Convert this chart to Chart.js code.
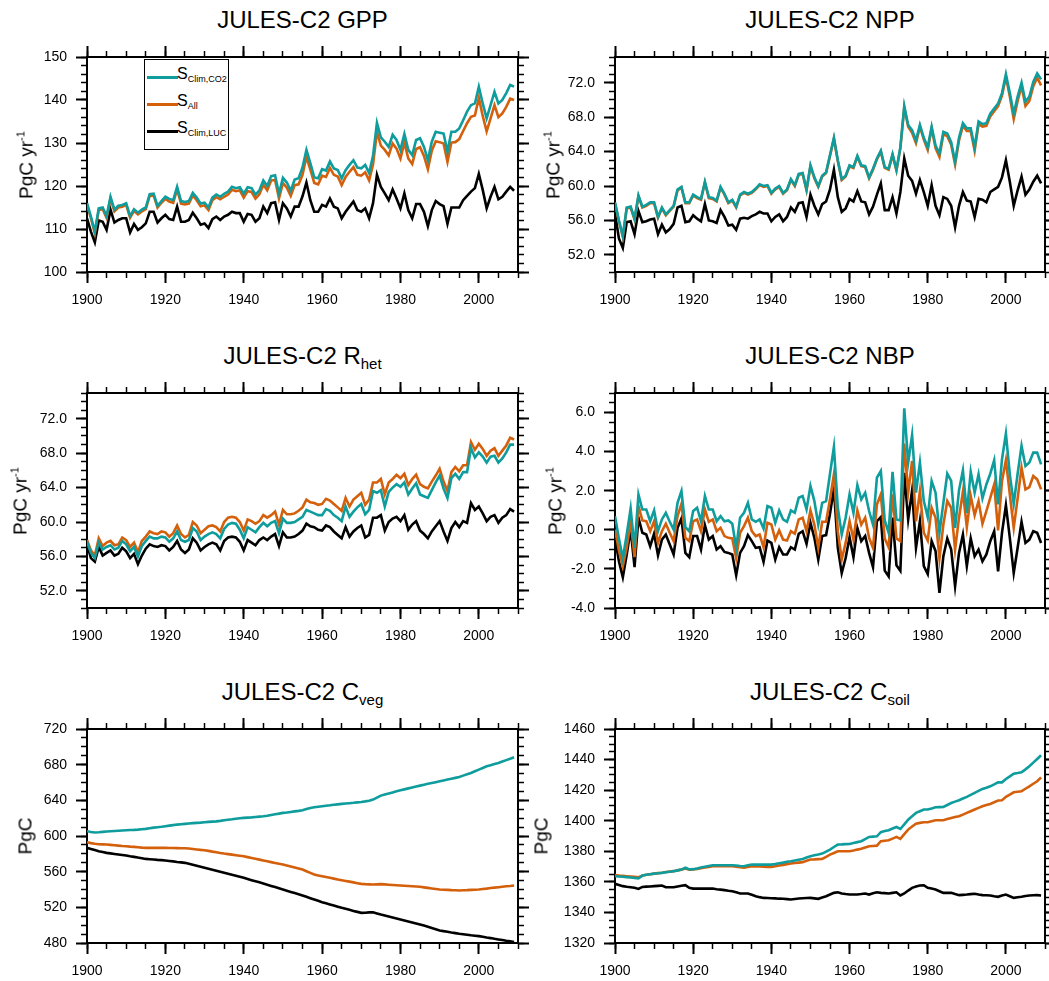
<!DOCTYPE html>
<html><head><meta charset="utf-8">
<script src="https://cdn.jsdelivr.net/npm/chart.js@4.4.1/dist/chart.umd.min.js"></script>
<style>
html,body{margin:0;padding:0;background:#fff;overflow:hidden;}
#wrap{position:relative;width:1049px;height:981px;font-family:"Liberation Sans",Arial,Helvetica,sans-serif;color:#000;}
#wrap canvas{position:absolute;}
.title{position:absolute;font-size:24px;line-height:24px;white-space:nowrap;transform:translateX(-50%);}
.title sub{font-size:15px;vertical-align:-5px;line-height:0;}
.ylab{position:absolute;font-size:19px;line-height:19px;white-space:nowrap;transform:translate(-50%,-50%) rotate(-90deg);}
.ylab sup{font-size:11px;vertical-align:8px;line-height:0;}
.legend{position:absolute;border:1px solid #000;background:#fff;box-sizing:border-box;z-index:5;}
.legend .sw{position:absolute;height:3px;}
.legend .tx{position:absolute;font-size:16px;line-height:16px;white-space:nowrap;}
.legend .tx sub{font-size:9px;vertical-align:-3px;line-height:0;}
</style>
</head><body><div id="wrap"></div>
<script>
// ---------------- DATA ----------------
const YEARS = [1900,1901,1902,1903,1904,1905,1906,1907,1908,1909,1910,1911,1912,1913,1914,1915,1916,1917,1918,1919,
1920,1921,1922,1923,1924,1925,1926,1927,1928,1929,1930,1931,1932,1933,1934,1935,1936,1937,1938,1939,
1940,1941,1942,1943,1944,1945,1946,1947,1948,1949,1950,1951,1952,1953,1954,1955,1956,1957,1958,1959,
1960,1961,1962,1963,1964,1965,1966,1967,1968,1969,1970,1971,1972,1973,1974,1975,1976,1977,1978,1979,
1980,1981,1982,1983,1984,1985,1986,1987,1988,1989,1990,1991,1992,1993,1994,1995,1996,1997,1998,1999,
2000,2001,2002,2003,2004,2005,2006,2007,2008,2009];

const X_TICKS = [1900,1920,1940,1960,1980,2000];
const GPP_TICKS = [100,110,120,130,140,150];
const NPP_TICKS = [52,56,60,64,68,72];
const RHET_TICKS = [52,56,60,64,68,72];
const NBP_TICKS = [-4,-2,0,2,4,6];
const CVEG_TICKS = [480,520,560,600,640,680,720];
const CSOIL_TICKS = [1320,1340,1360,1380,1400,1420,1440,1460];

const LEGEND_MAIN = ['S','S','S'];
const LEGEND_SUB = ['Clim,CO2','All','Clim,LUC'];

const GPP_CO2 = [116.0,112.9,109.4,114.8,115.0,113.0,117.5,114.5,115.4,115.6,116.0,113.0,114.6,113.8,114.5,115.0,118.1,118.2,115.4,116.5,
117.5,117.0,116.7,119.8,116.5,116.3,116.5,118.4,117.3,115.9,116.1,115.0,117.3,118.0,117.5,118.2,118.7,119.8,119.5,119.7,
118.2,119.7,119.5,118.0,119.0,121.3,120.0,122.3,122.5,118.2,121.9,120.8,118.9,121.5,121.8,124.3,128.4,125.3,122.0,121.8,
123.9,123.6,125.7,124.1,123.7,121.8,123.7,124.9,126.0,124.3,124.1,124.9,123.0,127.0,134.7,131.3,130.3,129.1,131.9,130.7,
128.4,132.1,128.4,127.2,130.7,131.1,129.1,126.0,130.3,132.6,132.4,132.2,128.0,132.6,132.6,133.4,135.3,137.3,138.8,139.2,
143.1,139.2,135.7,138.8,141.9,139.2,140.0,141.6,143.5,143.1];
const GPP_ALL = [115.6,112.5,109.0,114.4,114.6,112.6,117.1,114.1,115.0,115.2,115.6,112.6,114.2,113.4,114.1,114.6,117.7,117.8,115.0,116.1,
117.0,116.4,116.1,119.2,115.9,115.7,115.9,117.8,116.7,115.3,115.5,114.4,116.7,117.4,116.9,117.5,118.0,119.1,118.8,119.0,
117.3,118.8,118.6,117.1,118.1,120.3,119.0,121.3,121.4,117.1,120.7,119.6,117.7,120.2,120.4,122.6,126.8,123.8,120.7,120.4,
122.4,122.1,124.2,122.6,122.2,120.2,122.1,123.3,124.4,122.6,122.4,123.2,121.3,125.0,132.6,129.4,128.4,127.1,129.9,128.7,
126.4,130.1,126.4,125.1,128.6,129.0,127.0,123.9,128.2,130.4,130.2,129.9,125.6,130.1,130.2,130.9,132.8,134.6,136.1,136.4,
140.5,136.3,132.7,135.7,138.8,136.0,136.9,138.4,140.3,140.0];
const GPP_LUC = [112.5,109.4,106.9,112.0,111.7,109.8,114.5,111.5,112.1,112.5,112.5,109.2,111.2,109.8,110.4,111.3,114.0,114.0,111.5,112.5,
113.3,112.3,112.1,115.2,111.7,111.7,112.1,113.8,112.5,111.0,111.3,110.2,112.3,112.9,112.1,112.9,113.3,114.0,113.7,113.7,
111.7,113.5,113.3,111.7,112.5,115.2,113.7,116.0,116.2,112.1,116.0,114.8,112.9,115.2,115.2,117.6,120.8,116.7,114.0,114.0,
115.6,115.2,117.1,115.2,114.8,112.5,114.0,115.2,116.4,114.4,114.0,114.8,112.5,116.0,122.6,119.8,118.3,116.7,119.2,117.1,
114.8,118.3,114.4,112.5,115.8,115.8,114.0,110.7,114.4,116.5,115.8,115.3,111.2,115.0,115.0,115.0,116.7,117.7,118.7,119.5,
122.8,119.1,114.8,117.5,119.8,116.9,117.5,118.7,119.8,118.9];

const NPP_CO2 = [58.1,56.0,54.2,57.5,57.6,56.2,58.9,57.6,57.8,58.1,58.1,56.4,57.5,56.7,57.2,57.7,59.6,59.9,58.1,58.1,
59.0,58.7,58.5,60.5,58.7,58.6,58.3,59.9,59.1,58.1,58.4,57.6,59.0,59.3,59.1,59.3,59.7,60.2,60.0,60.1,
59.2,59.7,60.0,59.2,59.6,60.8,60.1,61.4,61.5,59.6,62.4,61.0,60.0,61.2,61.6,63.6,65.6,63.0,60.8,61.2,
62.4,62.2,63.5,62.4,62.3,61.0,62.0,63.2,64.1,62.2,62.0,63.7,61.9,64.5,69.3,67.1,66.5,65.3,67.1,65.6,
64.5,66.9,64.7,63.8,66.3,66.1,65.1,62.8,65.6,67.3,66.7,66.7,64.5,67.5,67.2,67.3,68.4,69.0,69.6,70.8,
73.0,70.8,68.4,70.4,72.0,69.8,70.4,72.1,73.1,72.4];
const NPP_ALL = [58.0,55.9,54.1,57.4,57.5,56.1,58.8,57.5,57.7,58.0,58.0,56.3,57.4,56.6,57.1,57.6,59.5,59.8,58.0,58.0,
58.9,58.6,58.4,60.4,58.6,58.5,58.2,59.8,59.0,58.0,58.3,57.5,58.9,59.2,59.0,59.2,59.6,60.1,59.9,60.0,
59.1,59.6,59.9,59.1,59.5,60.7,60.0,61.3,61.4,59.5,62.3,60.9,59.9,61.1,61.5,63.5,65.5,62.9,60.7,61.1,
62.3,62.1,63.4,62.3,62.2,60.9,61.9,63.1,64.0,62.1,61.9,63.6,61.8,64.4,69.1,66.9,66.2,65.0,66.9,65.4,
64.2,66.7,64.4,63.4,66.0,65.8,64.8,62.5,65.3,67.0,66.4,66.4,64.1,67.2,66.9,67.0,68.1,68.7,69.3,70.5,
72.7,70.4,67.8,69.9,71.6,69.3,69.9,71.6,72.6,71.7];
const NPP_LUC = [56.8,53.9,52.8,55.8,55.9,54.4,57.1,55.8,55.9,56.1,56.2,54.4,55.5,54.6,55.0,55.6,57.5,57.7,55.8,55.9,
56.6,56.2,55.9,57.9,56.0,55.9,55.7,57.2,56.4,55.4,55.5,54.9,56.2,56.3,56.2,56.5,56.7,57.0,56.8,56.8,
55.9,56.4,56.7,55.9,56.4,57.5,57.0,58.0,58.1,56.4,59.0,57.7,56.7,57.9,58.2,59.6,61.9,58.7,57.0,57.4,
58.5,58.2,59.4,58.2,58.1,56.7,57.6,59.0,60.3,57.2,57.2,58.7,56.8,59.3,63.2,61.2,60.6,59.1,60.7,59.3,
57.7,60.1,57.7,56.6,58.7,58.5,57.7,55.2,57.7,59.3,58.3,58.2,56.4,58.5,58.4,58.1,59.3,59.6,59.9,61.0,
63.0,60.5,57.7,59.5,61.1,59.0,59.6,60.5,61.2,60.3];

const RHET_CO2 = [57.7,56.4,55.8,57.6,56.8,57.1,57.3,56.8,57.0,57.8,57.4,56.6,57.1,56.0,57.2,57.8,58.3,58.1,58.1,58.3,
58.2,57.7,58.1,58.9,57.9,57.7,57.9,59.3,58.9,57.9,58.3,58.6,58.8,58.6,58.1,59.2,59.7,59.9,59.8,59.1,
58.1,59.4,59.1,58.8,59.4,59.9,59.5,59.9,60.1,58.7,60.4,59.9,59.9,60.0,60.3,60.6,61.4,61.2,61.0,60.8,
60.8,61.5,61.3,60.8,60.5,60.1,61.8,60.6,61.2,61.7,62.1,60.9,61.4,63.6,63.4,63.7,61.8,63.5,64.0,64.4,
64.1,64.6,63.2,63.9,64.5,63.2,63.0,62.8,63.7,64.6,65.4,63.9,62.8,65.1,65.6,65.0,65.8,65.8,68.6,67.5,
68.1,67.6,66.9,67.6,67.7,66.9,67.4,68.1,69.0,69.0];
const RHET_ALL = [57.9,56.7,56.1,58.1,57.2,57.6,57.8,57.3,57.4,58.2,57.9,57.1,57.6,56.5,57.8,58.3,58.9,58.7,58.6,58.9,
58.8,58.3,58.7,59.6,58.6,58.2,58.5,60.0,59.6,58.7,59.1,59.5,59.6,59.4,58.9,60.0,60.5,60.6,60.5,60.0,
59.0,60.3,60.1,59.8,60.1,60.8,60.5,60.8,61.2,59.7,61.4,60.9,60.9,61.0,61.3,61.7,62.6,62.3,62.2,62.0,
62.1,62.7,62.5,62.1,61.7,61.3,62.8,61.8,62.6,63.0,63.4,62.0,62.6,64.6,64.6,65.0,63.2,64.6,65.0,65.5,
65.1,65.6,64.3,65.0,65.5,64.4,64.1,63.9,64.7,65.4,66.2,64.7,63.6,65.8,66.4,65.9,66.6,66.6,69.3,68.4,
69.1,68.5,67.7,68.3,68.6,67.7,68.3,68.9,69.8,69.6];
const RHET_LUC = [57.4,55.8,55.4,57.1,56.1,56.4,56.7,56.1,56.3,57.0,56.6,55.8,56.3,55.1,56.1,56.9,57.4,57.2,57.1,57.3,
57.2,56.7,57.1,57.8,56.8,56.4,56.8,58.1,57.6,56.7,57.1,57.4,57.6,57.4,56.7,57.8,58.2,58.3,58.2,57.7,
56.7,57.9,57.6,57.3,57.9,58.2,57.9,58.3,58.6,57.2,58.8,58.2,58.2,58.3,58.6,59.0,59.8,59.5,59.4,59.1,
59.0,59.6,59.4,58.9,58.5,58.1,59.4,58.3,58.9,59.3,59.6,58.2,58.5,60.5,60.5,60.8,59.0,60.0,60.4,60.6,
60.1,60.8,59.1,59.7,60.1,59.0,58.6,58.1,58.9,59.5,60.1,58.9,57.8,59.3,60.0,59.4,60.1,59.9,62.2,61.4,
61.8,61.0,60.1,60.6,60.8,59.9,60.5,60.8,61.5,61.2];

const NBP_CO2 = [0.70,-0.44,-1.47,-0.24,1.09,-0.92,1.81,1.04,1.04,0.44,0.99,-0.07,0.53,0.87,0.41,0.02,1.38,1.98,0.14,-0.07,
0.96,1.13,0.44,1.73,1.04,1.04,0.44,0.70,0.44,0.48,0.31,-0.92,0.62,0.87,1.38,0.53,0.41,0.53,0.07,1.21,
1.13,0.36,0.99,0.53,0.41,0.99,0.87,1.64,1.73,1.04,2.24,1.47,0.27,1.38,1.47,2.87,4.24,1.13,-0.24,0.62,
1.81,0.87,2.29,1.56,1.90,0.96,0.27,2.67,3.01,0.48,-0.15,2.97,0.53,0.48,6.22,3.44,4.85,1.90,3.44,1.47,
0.65,2.50,1.90,-0.15,1.38,2.87,2.50,0.10,2.02,3.04,0.87,2.97,1.90,2.84,1.61,2.32,2.87,3.56,1.30,3.61,
4.92,2.84,1.33,2.87,4.29,3.26,3.44,3.95,3.95,3.35];
const NBP_ALL = [0.02,-1.06,-1.86,-0.92,0.44,-1.40,1.21,0.48,0.44,-0.07,0.44,-0.67,-0.07,0.31,-0.15,-0.58,0.70,1.33,-0.41,-0.58,
0.44,0.53,-0.07,1.04,0.41,0.53,-0.07,0.10,-0.32,-0.41,-0.44,-1.44,-0.15,0.19,0.62,-0.07,-0.32,-0.24,-0.89,0.36,
0.27,-0.50,-0.03,-0.50,-0.55,-0.07,-0.20,0.53,0.62,-0.07,0.99,0.27,-0.92,0.41,0.41,1.56,2.84,-0.07,-1.52,-0.67,
0.44,-0.50,0.99,0.27,0.62,-0.41,-0.92,1.30,1.81,-0.44,-0.89,1.81,-0.44,-0.58,4.41,1.90,3.52,0.44,1.98,-0.15,
-0.55,1.13,0.62,-1.47,0.27,1.47,1.13,-1.01,0.62,1.95,0.14,1.73,0.75,1.47,0.31,0.96,1.64,2.32,-0.03,2.50,
3.56,1.81,0.10,1.61,3.18,2.07,2.19,2.75,2.58,2.07];
const NBP_LUC = [-0.41,-1.61,-2.43,-1.26,0.02,-1.91,0.62,-0.15,-0.24,-0.84,-0.20,-1.30,-0.50,-0.24,-0.75,-1.26,0.10,0.58,-1.18,-1.40,
-0.32,-0.32,-1.01,0.24,-0.50,-0.32,-1.01,-0.84,-1.13,-1.18,-1.26,-2.32,-1.18,-0.84,-0.27,-0.58,-0.92,-0.89,-1.64,-0.55,
-0.67,-1.52,-0.89,-1.26,-1.26,-0.89,-1.01,-0.20,-0.07,-0.72,0.36,-0.41,-1.52,-0.32,-0.27,0.82,2.12,-0.92,-2.21,-1.44,
-0.38,-1.40,0.10,-0.58,-0.32,-1.18,-1.91,0.44,0.65,-2.09,-2.38,0.62,-1.81,-2.10,2.92,0.53,2.02,-0.92,0.44,-1.86,
-2.26,-0.58,-1.09,-3.23,-1.35,-0.44,-1.01,-2.89,-1.18,-0.24,-1.86,-0.44,-1.35,-1.01,-1.61,-1.26,-0.58,-0.07,-2.12,-0.15,
1.26,-0.41,-2.21,-0.92,0.41,-0.67,-0.50,-0.07,-0.15,-0.67];

const CVEG_CO2 = [605.3,604.5,604.0,604.2,604.6,605.0,605.3,605.6,605.9,606.2,606.5,606.7,606.9,607.2,607.6,608.0,608.7,609.4,609.9,610.4,
611.0,611.6,612.2,612.8,613.2,613.6,614.0,614.4,614.7,615.0,615.4,615.8,616.1,616.4,617.0,617.7,618.3,618.8,619.4,619.9,
620.3,620.6,620.9,621.3,621.7,622.1,622.8,623.6,624.4,625.1,625.9,626.4,627.0,627.6,628.2,628.9,630.2,631.5,632.2,632.8,
633.4,633.9,634.4,635.0,635.5,636.0,636.4,636.8,637.2,637.7,638.2,638.8,639.5,640.8,643.0,645.3,646.5,647.7,648.9,650.1,
651.3,652.3,653.4,654.4,655.5,656.5,657.5,658.5,659.4,660.4,661.4,662.3,663.3,664.3,665.2,666.2,667.7,669.2,670.7,672.6,
674.4,676.3,678.2,679.4,680.7,681.9,683.5,685.1,686.7,688.3];
const CVEG_ALL = [593.0,592.0,591.3,590.8,590.6,590.4,590.0,589.6,589.2,588.8,588.5,588.1,587.8,587.4,587.0,586.7,586.7,586.7,586.7,586.7,
586.7,586.6,586.5,586.4,586.3,586.3,585.9,585.4,584.9,584.4,584.0,583.3,582.5,581.8,581.0,580.3,579.7,579.1,578.5,577.9,
577.3,576.3,575.4,574.4,573.5,572.5,571.6,570.7,569.8,568.9,568.0,566.9,565.8,564.6,563.5,562.4,560.5,558.6,556.8,555.8,
554.9,554.0,553.1,552.2,551.3,550.4,549.6,548.8,548.0,547.1,546.3,546.0,545.8,545.6,545.8,546.0,545.7,545.4,545.1,544.8,
544.5,544.2,543.9,543.6,543.3,543.0,542.4,541.8,541.2,540.6,540.0,539.8,539.6,539.3,539.1,538.9,539.1,539.3,539.6,539.8,
540.0,540.5,541.0,541.6,542.1,542.6,543.1,543.6,544.0,544.5];
const CVEG_LUC = [586.7,585.4,584.2,583.0,582.0,581.1,580.5,579.9,579.3,578.7,578.1,577.3,576.6,575.8,575.1,574.3,574.0,573.6,573.2,572.9,
572.5,572.0,571.5,570.9,570.4,569.9,568.8,567.7,566.5,565.4,564.3,563.2,562.1,560.9,559.8,558.7,557.6,556.5,555.3,554.2,
553.1,551.8,550.5,549.3,548.0,546.7,545.4,544.0,542.7,541.3,540.0,538.7,537.3,536.0,534.6,533.3,531.8,530.3,528.8,527.3,
525.8,524.5,523.2,522.0,520.7,519.4,518.3,517.2,516.0,514.9,513.8,514.0,514.3,514.5,513.2,511.9,510.8,509.7,508.6,507.5,
506.4,505.3,504.2,503.0,501.9,500.8,499.5,498.1,496.8,495.4,494.1,493.3,492.6,491.8,491.1,490.3,489.8,489.3,488.7,488.2,
487.7,487.0,486.2,485.5,484.7,484.0,483.3,482.5,481.8,481.0];

const CSOIL_CO2 = [1363.7,1363.5,1363.3,1363.1,1362.9,1362.6,1362.2,1364.1,1364.6,1365.0,1365.4,1365.6,1365.9,1366.3,1366.6,1367.0,1367.5,1368.0,1369.2,1368.1,
1368.3,1368.8,1369.4,1369.9,1370.4,1370.9,1370.9,1370.9,1370.9,1370.9,1370.9,1370.7,1370.4,1370.2,1370.8,1371.3,1371.3,1371.3,1371.3,1371.3,
1371.3,1371.7,1372.2,1372.6,1373.1,1373.5,1374.0,1374.5,1375.0,1375.9,1376.8,1377.4,1377.9,1378.5,1379.8,1381.1,1382.8,1384.4,1384.5,1384.7,
1384.8,1385.4,1386.0,1386.6,1388.0,1389.4,1389.6,1389.8,1392.5,1393.2,1393.8,1394.9,1395.9,1394.6,1397.6,1400.7,1402.9,1405.1,1406.2,1407.3,
1407.3,1408.0,1408.8,1408.9,1409.0,1410.3,1411.6,1412.5,1413.4,1414.5,1415.6,1416.9,1418.2,1419.5,1420.8,1421.6,1422.5,1423.8,1425.1,1425.1,
1427.3,1429.0,1430.8,1431.2,1431.7,1433.6,1435.6,1438.0,1440.4,1442.8];
const CSOIL_ALL = [1364.4,1364.1,1363.9,1363.7,1363.5,1363.3,1363.0,1364.0,1364.6,1365.0,1365.4,1365.7,1366.0,1366.4,1366.7,1367.0,1367.5,1368.0,1368.7,1368.0,
1368.1,1368.5,1369.0,1369.4,1369.8,1370.2,1370.2,1370.2,1370.2,1370.2,1370.2,1369.9,1369.5,1369.2,1369.7,1370.2,1370.1,1370.0,1369.9,1369.8,
1369.8,1370.2,1370.7,1371.1,1371.6,1372.0,1372.3,1372.6,1372.9,1373.8,1374.6,1374.7,1374.9,1375.0,1376.4,1377.8,1378.9,1380.0,1380.0,1380.0,
1380.0,1380.5,1381.1,1381.6,1382.5,1383.3,1383.5,1383.7,1386.6,1386.9,1387.2,1388.3,1389.4,1388.1,1391.2,1394.2,1396.2,1398.1,1398.6,1399.0,
1399.0,1399.7,1400.3,1400.3,1400.3,1401.1,1401.8,1402.4,1402.9,1404.0,1405.1,1406.2,1407.3,1408.4,1409.5,1410.3,1411.0,1412.1,1413.2,1413.4,
1415.6,1417.1,1418.6,1419.0,1419.3,1420.9,1422.5,1424.2,1425.8,1428.4];
const CSOIL_LUC = [1358.7,1358.0,1357.2,1356.8,1356.5,1356.1,1355.4,1356.7,1356.9,1357.0,1357.2,1357.4,1357.6,1356.5,1356.5,1356.5,1357.0,1357.4,1357.8,1356.1,
1355.6,1355.6,1355.6,1355.6,1355.6,1355.6,1355.2,1354.9,1354.6,1354.2,1353.9,1353.2,1352.4,1352.4,1352.4,1351.5,1350.6,1350.0,1349.5,1349.4,
1349.3,1349.2,1349.0,1348.9,1348.7,1348.5,1348.8,1349.1,1349.3,1349.4,1349.5,1349.2,1348.9,1349.8,1350.6,1351.7,1352.8,1353.2,1352.4,1352.0,
1351.7,1351.7,1351.7,1352.0,1352.4,1351.7,1352.5,1353.2,1352.8,1352.6,1352.4,1352.8,1353.2,1351.1,1352.4,1354.3,1356.1,1356.9,1357.6,1357.8,
1356.1,1355.6,1355.0,1353.9,1352.8,1352.8,1352.8,1352.0,1351.3,1351.5,1351.7,1352.0,1352.2,1351.7,1351.3,1351.2,1351.1,1350.6,1350.2,1351.0,
1351.7,1350.6,1349.5,1349.9,1350.2,1350.7,1351.1,1351.2,1351.3,1351.1];

// ---------------- LAYOUT / STYLE ----------------
const COLORS = ['#0e9c9c', '#d4600c', '#000000'];
const FONT = '"Liberation Sans", Arial, Helvetica, sans-serif';
const PANELS = [
  {title:'JULES-C2 GPP', sub:'', unit:true, L:87, T:57, W:431, H:215, min:100, max:150, ticks:GPP_TICKS, mstep:2, dec:0, labX:26, series:[GPP_CO2,GPP_ALL,GPP_LUC], legend:true},
  {title:'JULES-C2 NPP', sub:'', unit:true, L:615, T:57, W:430, H:215, min:50, max:75, ticks:NPP_TICKS, mstep:1, dec:1, labX:553, series:[NPP_CO2,NPP_ALL,NPP_LUC]},
  {title:'JULES-C2 R', sub:'het', unit:true, L:87, T:393, W:431, H:215, min:50, max:75, ticks:RHET_TICKS, mstep:1, dec:1, labX:20, series:[RHET_CO2,RHET_ALL,RHET_LUC]},
  {title:'JULES-C2 NBP', sub:'', unit:true, L:615, T:393, W:430, H:215, min:-4, max:7, ticks:NBP_TICKS, mstep:0.5, dec:1, labX:555, series:[NBP_CO2,NBP_ALL,NBP_LUC]},
  {title:'JULES-C2 C', sub:'veg', unit:false, L:87, T:729, W:431, H:214, min:480, max:720, ticks:CVEG_TICKS, mstep:10, dec:0, labX:25, series:[CVEG_CO2,CVEG_ALL,CVEG_LUC]},
  {title:'JULES-C2 C', sub:'soil', unit:false, L:615, T:729, W:430, H:214, min:1320, max:1460, ticks:CSOIL_TICKS, mstep:5, dec:0, labX:541, series:[CSOIL_CO2,CSOIL_ALL,CSOIL_LUC]}
];

const wrap = document.getElementById('wrap');
const LM = 80, TM = 20, RM = 20, BM = 40;

function stepTicks(min, max, step) {
  const a = [];
  const n = Math.round((max - min) / step);
  for (let k = 0; k <= n; k++) a.push(+(min + k * step).toFixed(6));
  return a;
}

function axis(ax, pos, min, max, arr, major, labels, size, fmt) {
  return {
    type: 'linear', axis: ax, position: pos, min: min, max: max, weight: major ? 1 : 0,
    afterBuildTicks: s => { s.ticks = arr.map(v => ({value: v})); },
    afterFit: s => { if (ax === 'x') s.height = size; else s.width = size; },
    grid: {display: true, drawOnChartArea: false, drawTicks: true, tickLength: major ? 11 : 6,
           tickWidth: major ? 2 : 1.5, tickColor: '#000', color: '#000'},
    border: {display: major, color: '#000', width: 2},
    ticks: {display: labels, font: {family: FONT, size: 14}, color: '#000', padding: 9,
            autoSkip: false, maxRotation: 0, minRotation: 0, callback: fmt}
  };
}

PANELS.forEach(p => {
  const c = document.createElement('canvas');
  c.width = p.W + LM + RM; c.height = p.H + TM + BM;
  c.style.left = (p.L - LM) + 'px'; c.style.top = (p.T - TM) + 'px';
  c.style.width = c.width + 'px'; c.style.height = c.height + 'px';
  wrap.appendChild(c);

  const xMinor = stepTicks(1900, 2010, 5);
  const yMinor = stepTicks(p.min, p.max, p.mstep);
  const fx = v => String(v);
  const fy = v => Number(v).toFixed(p.dec);

  new Chart(c, {
    type: 'line',
    data: {
      datasets: p.series.map((arr, k) => ({
        data: YEARS.map((yr, j) => ({x: yr, y: arr[j]})),
        borderColor: COLORS[k], borderWidth: 2.6, pointRadius: 0, tension: 0, fill: false
      }))
    },
    options: {
      responsive: false, animation: false, events: [],
      layout: {padding: 0},
      plugins: {legend: {display: false}, tooltip: {enabled: false}, title: {display: false}},
      scales: {
        x:   axis('x', 'bottom', 1900, 2010, X_TICKS, true, true, BM, fx),
        xm:  axis('x', 'bottom', 1900, 2010, xMinor, false, false, 0, fx),
        xt:  axis('x', 'top', 1900, 2010, X_TICKS, true, false, TM, fx),
        xtm: axis('x', 'top', 1900, 2010, xMinor, false, false, 0, fx),
        y:   axis('y', 'left', p.min, p.max, p.ticks, true, true, LM, fy),
        ym:  axis('y', 'left', p.min, p.max, yMinor, false, false, 0, fy),
        yr:  axis('y', 'right', p.min, p.max, p.ticks, true, false, RM, fy),
        yrm: axis('y', 'right', p.min, p.max, yMinor, false, false, 0, fy)
      }
    }
  });

  const t = document.createElement('div');
  t.className = 'title';
  t.style.left = (p.L + p.W / 2) + 'px';
  t.style.top = (p.T - 49) + 'px';
  t.innerHTML = p.title + (p.sub ? '<sub>' + p.sub + '</sub>' : '');
  wrap.appendChild(t);

  const yl = document.createElement('div');
  yl.className = 'ylab';
  yl.style.left = p.labX + 'px';
  yl.style.top = (p.T + p.H / 2) + 'px';
  yl.innerHTML = p.unit ? 'PgC yr<sup>-1</sup>' : 'PgC';
  wrap.appendChild(yl);

  if (p.legend) {
    const lg = document.createElement('div');
    lg.className = 'legend';
    lg.style.left = '144px'; lg.style.top = '59px'; lg.style.width = '85px'; lg.style.height = '91px';
    const rowY = [17, 44, 71];
    LEGEND_MAIN.forEach((m, k) => {
      const sw = document.createElement('div');
      sw.className = 'sw';
      sw.style.left = '2px'; sw.style.width = '31px'; sw.style.top = (rowY[k] - 1.5) + 'px';
      sw.style.background = COLORS[k];
      lg.appendChild(sw);
      const tx = document.createElement('div');
      tx.className = 'tx';
      tx.style.left = '32px'; tx.style.top = (rowY[k] - 11) + 'px';
      tx.innerHTML = m + '<sub>' + LEGEND_SUB[k] + '</sub>';
      lg.appendChild(tx);
    });
    wrap.appendChild(lg);
  }
});
</script>
</body></html>
